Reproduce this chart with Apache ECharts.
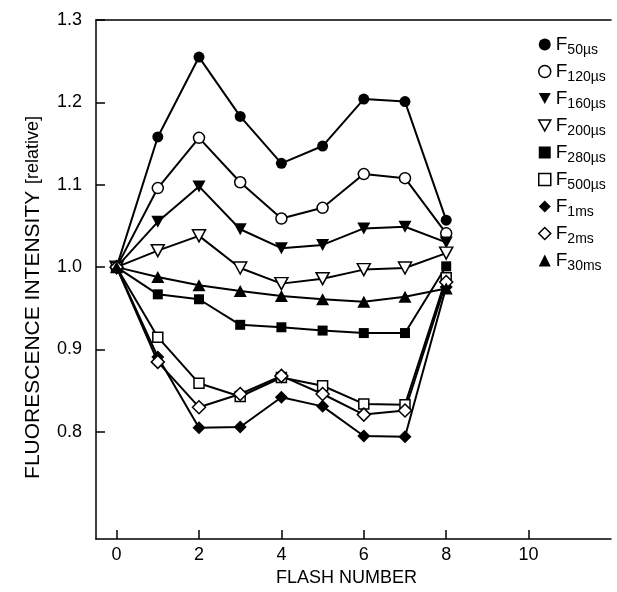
<!DOCTYPE html>
<html>
<head>
<meta charset="utf-8">
<script src="https://cdn.jsdelivr.net/npm/echarts@6/dist/echarts.min.js"></script>
<style>
html,body{margin:0;padding:0;background:#fff;}
#chart{width:617px;height:592px;}
</style>
</head>
<body>
<div id="chart"></div>
<script>
// ---- data ----
const flashes = [0, 1, 2, 3, 4, 5, 6, 7, 8];
const xTicks = [0, 2, 4, 6, 8, 10];
const yTicks = [0.8, 0.9, 1.0, 1.1, 1.2, 1.3];
const subscripts = ['50µs', '120µs', '160µs', '200µs', '280µs', '500µs', '1ms', '2ms', '30ms'];

const f50us  = [1.0, 1.158, 1.255, 1.183, 1.126, 1.147, 1.204, 1.201, 1.057];
const f120us = [1.0, 1.096, 1.157, 1.103, 1.059, 1.072, 1.113, 1.108, 1.041];
const f160us = [1.0, 1.055, 1.098, 1.046, 1.023, 1.027, 1.047, 1.049, 1.030];
const f200us = [1.0, 1.020, 1.038, 0.999, 0.980, 0.986, 0.997, 0.999, 1.017];
const f280us = [1.0, 0.967, 0.961, 0.930, 0.927, 0.923, 0.920, 0.920, 1.001];
const f500us = [1.0, 0.915, 0.859, 0.843, 0.866, 0.856, 0.834, 0.833, 0.987];
const f1ms   = [1.0, 0.891, 0.805, 0.806, 0.842, 0.831, 0.795, 0.794, 0.976];
const f2ms   = [1.0, 0.885, 0.830, 0.846, 0.868, 0.846, 0.821, 0.826, 0.982];
const f30ms  = [1.0, 0.988, 0.978, 0.971, 0.965, 0.961, 0.958, 0.964, 0.974];

const seriesValues = [f50us, f120us, f160us, f200us, f280us, f500us, f1ms, f2ms, f30ms];

// ---- styles ----
const triDown = 'path://M0,0 L10,0 L5,9 Z';
const markerDefs = [
  {symbol: 'circle', size: 11, filled: true},
  {symbol: 'circle', size: 11, filled: false},
  {symbol: triDown, size: [13, 12], filled: true},
  {symbol: triDown, size: [13, 12], filled: false},
  {symbol: 'rect', size: 10, filled: true},
  {symbol: 'rect', size: 10, filled: false},
  {symbol: 'diamond', size: 13, filled: true},
  {symbol: 'diamond', size: 13, filled: false},
  {symbol: 'triangle', size: [13, 12], filled: true}
];

const FONT = '"Liberation Sans", Arial, Helvetica, sans-serif';

const series = seriesValues.map((vals, i) => {
  const m = markerDefs[i];
  return {
    name: 'F' + subscripts[i],
    type: 'line',
    data: flashes.map((f, k) => [f, vals[k]]),
    symbol: m.symbol,
    symbolSize: m.size,
    showAllSymbol: true,
    lineStyle: {color: '#000', width: 2},
    itemStyle: {
      color: m.filled ? '#000' : '#fff',
      borderColor: '#000',
      borderWidth: m.filled ? 0 : 1.5,
      opacity: 1
    },
    emphasis: {disabled: true}
  };
});

const chart = echarts.init(document.getElementById('chart'), null, {renderer: 'canvas'});
chart.setOption({
  animation: false,
  backgroundColor: '#fff',
  textStyle: {fontFamily: FONT, color: '#000'},
  grid: {left: 96, right: 6, top: 20, bottom: 51, containLabel: false},
  xAxis: [{
    type: 'value',
    min: -0.5,
    max: 12,
    splitLine: {show: false},
    axisLine: {show: true, onZero: false, lineStyle: {color: '#000', width: 1.5}},
    axisTick: {show: true, inside: true, length: 9, customValues: xTicks, lineStyle: {color: '#000', width: 1.5}},
    axisLabel: {customValues: xTicks, color: '#000', fontSize: 18, fontFamily: FONT, margin: 7},
    name: 'FLASH NUMBER',
    nameLocation: 'middle',
    nameGap: 30,
    nameTextStyle: {color: '#000', fontSize: 18, fontFamily: FONT, padding: [0, 14, 0, 0]}
  }, {
    type: 'value',
    position: 'top',
    min: -0.5,
    max: 12,
    splitLine: {show: false},
    axisLine: {show: true, onZero: false, lineStyle: {color: '#000', width: 1.5}},
    axisTick: {show: false},
    axisLabel: {show: false}
  }],
  yAxis: {
    type: 'value',
    min: 0.67,
    max: 1.3,
    splitLine: {show: false},
    axisLine: {show: true, onZero: false, lineStyle: {color: '#000', width: 1.5}},
    axisTick: {show: true, inside: true, length: 9, customValues: yTicks, lineStyle: {color: '#000', width: 1.5}},
    axisLabel: {
      customValues: yTicks, color: '#000', fontSize: 18, fontFamily: FONT, margin: 14,
      formatter: v => v.toFixed(1)
    },
    name: '{a|FLUORESCENCE INTENSITY}  {b|[relative]}',
    nameLocation: 'middle',
    nameRotate: 90,
    nameGap: 52,
    nameTextStyle: {
      color: '#000', fontFamily: FONT, padding: [0, 36, 0, 0],
      rich: {
        a: {fontSize: 21, fontFamily: FONT, color: '#000'},
        b: {fontSize: 18, fontFamily: FONT, color: '#000'}
      }
    }
  },
  legend: {
    orient: 'vertical',
    left: 533,
    top: 27,
    itemWidth: 12,
    itemHeight: 12,
    itemGap: 2,
    selectedMode: false,
    data: series.map((s, i) => ({
      name: s.name,
      icon: markerDefs[i].symbol,
      itemStyle: {
        color: markerDefs[i].filled ? '#000' : '#fff',
        borderColor: '#000',
        borderWidth: markerDefs[i].filled ? 0 : 1.5
      }
    })),
    formatter: name => {
      const i = series.findIndex(s => s.name === name);
      return '{f|F}{s|' + subscripts[i] + '}';
    },
    textStyle: {
      fontFamily: FONT,
      color: '#000',
      rich: {
        f: {fontSize: 19, fontFamily: FONT, color: '#000', lineHeight: 22},
        s: {fontSize: 14, fontFamily: FONT, color: '#000', padding: [11, 0, 0, 0], lineHeight: 14}
      }
    }
  },
  series: series
});
</script>
</body>
</html>
